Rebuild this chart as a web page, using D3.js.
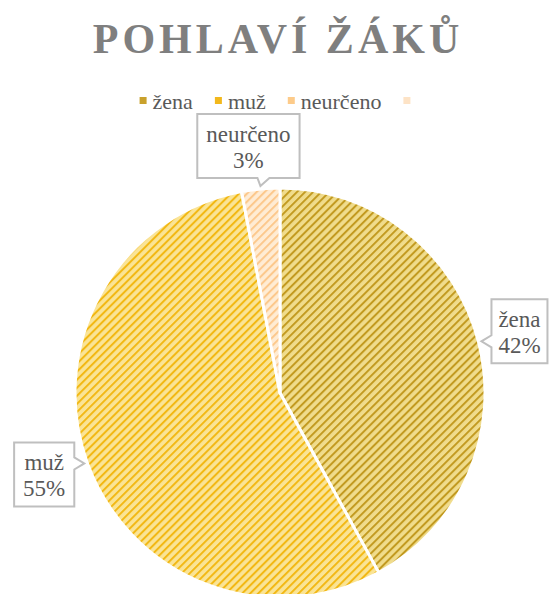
<!DOCTYPE html>
<html lang="cs">
<head>
<meta charset="UTF-8">
<title>Pohlaví žáků</title>
<script src="https://d3js.org/d3.v7.min.js"></script>
<style>
  body { margin: 0; background: #fff; }
  svg text { font-family: "Liberation Serif", "Times New Roman", serif; }
</style>
</head>
<body>
<div id="chart"></div>
<script>
// data
const title = "POHLAVÍ ŽÁKŮ";
const categories = ["žena", "muž", "neurčeno", ""];
const values = [42, 55, 3, 0];
const percentLabels = ["42%", "55%", "3%"];

// colours: stripe colour, background colour, legend marker
const stripeColors = ["#c29a20", "#f2b814", "#fcc88c", "#fde2c4"];
const backColors = ["#f0dc8c", "#fae496", "#ffecd4", "#fff3e4"];
const legendColors = ["#c9a12c", "#f2b81c", "#fdcb8a", "#fde3c6"];

// callout placement: side of the tip where the box sits
const calloutSide = ["right", "left", "top", null];

const W = 549, H = 594;
const cx = 280, cy = 393, radius = 205;

const svg = d3.select("#chart").append("svg")
  .attr("width", W)
  .attr("height", H);

// stripe patterns
const defs = svg.append("defs");
const step = 5.7;
categories.forEach((c, i) => {
  const p = defs.append("pattern")
    .attr("id", `stripe-${i}`)
    .attr("patternUnits", "userSpaceOnUse")
    .attr("width", step)
    .attr("height", step)
    .attr("patternTransform", "rotate(45)");
  p.append("rect").attr("width", step).attr("height", step).attr("fill", backColors[i]);
  p.append("rect").attr("width", 2).attr("height", step).attr("fill", stripeColors[i]);
});

// title
svg.append("text")
  .attr("x", 278)
  .attr("y", 53)
  .attr("text-anchor", "middle")
  .attr("font-size", 42)
  .attr("font-weight", "bold")
  .attr("letter-spacing", 4)
  .attr("fill", "#7f7f7f")
  .text(title);

// legend
const legend = svg.append("g");
let lx = 0;
categories.forEach((c, i) => {
  const g = legend.append("g").attr("transform", `translate(${lx},0)`);
  g.append("rect")
    .attr("x", 0).attr("y", -4)
    .attr("width", 7).attr("height", 7)
    .attr("fill", legendColors[i]);
  const t = g.append("text")
    .attr("x", 13)
    .attr("y", 8)
    .attr("font-size", 22)
    .attr("fill", "#595959")
    .text(c);
  const tw = c ? t.node().getComputedTextLength() : 0;
  lx += 13 + tw + 22;
});
const legendWidth = lx - 22 - 6;
legend.attr("transform", `translate(${275 - legendWidth / 2},101)`);

// pie
const pie = d3.pie().sort(null).value(d => d);
const arcs = pie(values);
const arc = d3.arc().innerRadius(0).outerRadius(radius);

const pieG = svg.append("g").attr("transform", `translate(${cx},${cy})`);
pieG.selectAll("path")
  .data(arcs.filter(d => d.value > 0))
  .enter()
  .append("path")
  .attr("d", arc)
  .attr("fill", d => `url(#stripe-${d.index})`)
  .attr("stroke", "#fff")
  .attr("stroke-width", 3)
  .attr("stroke-linejoin", "round");

// callouts
const fontSize = 23, lineH = 26, boxH = 64, pad = 9, gap = 10, notch = 6;
arcs.forEach((d, i) => {
  if (!calloutSide[i]) return;
  const mid = (d.startAngle + d.endAngle) / 2;
  const tx = cx + Math.sin(mid) * (radius + 3);
  const ty = cy - Math.cos(mid) * (radius + 3);

  const g = svg.append("g");
  const path = g.append("path")
    .attr("fill", "#fff")
    .attr("stroke", "#bfbfbf")
    .attr("stroke-width", 2);
  const t1 = g.append("text").attr("font-size", fontSize)
    .attr("fill", "#595959").attr("text-anchor", "middle").text(categories[i]);
  const t2 = g.append("text").attr("font-size", fontSize)
    .attr("fill", "#595959").attr("text-anchor", "middle").text(percentLabels[i]);
  const tw = Math.max(t1.node().getComputedTextLength(), t2.node().getComputedTextLength());
  const bw = Math.min(tw + 2 * pad, i === 0 ? 56 : 200);

  let x0, y0;
  let p;
  if (calloutSide[i] === "right") {
    x0 = tx + gap; y0 = ty - boxH / 2 - 10;
    const x1 = x0 + bw, y1 = y0 + boxH;
    p = `M${x0},${y0}H${x1}V${y1}H${x0}V${ty + notch}L${tx},${ty}L${x0},${ty - notch}Z`;
  } else if (calloutSide[i] === "left") {
    x0 = tx - gap - bw; y0 = ty - boxH / 2 + 11;
    const x1 = x0 + bw, y1 = y0 + boxH;
    p = `M${x0},${y0}H${x1}V${ty - notch}L${tx},${ty}L${x1},${ty + notch}V${y1}H${x0}Z`;
  } else {
    y0 = ty - gap - boxH + 2; x0 = tx - 12 - bw / 2;
    const x1 = x0 + bw, y1 = y0 + boxH;
    p = `M${x0},${y0}H${x1}V${y1}H${tx + notch + 3}L${tx},${ty}L${tx - notch + 3},${y1}H${x0}Z`;
  }
  path.attr("d", p);
  const mx = x0 + bw / 2;
  t1.attr("x", mx).attr("y", y0 + 28);
  t2.attr("x", mx).attr("y", y0 + 28 + lineH);
});
</script>
</body>
</html>
